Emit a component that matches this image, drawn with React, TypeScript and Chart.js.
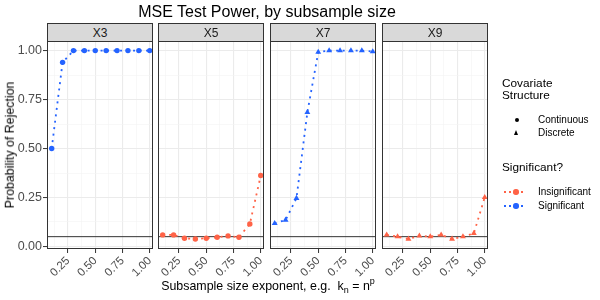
import React, { useEffect, useRef } from "react";
import { Chart, registerables } from "chart.js";

Chart.register(...registerables);

// ---------------- data ----------------
const panelNames = ["X3", "X5", "X7", "X9"];
const covariateStructure = ["Continuous", "Continuous", "Discrete", "Discrete"];
const significance = ["Significant", "Insignificant", "Significant", "Insignificant"];
const exponents = [0.1, 0.2, 0.3, 0.4, 0.5, 0.6, 0.7, 0.8, 0.9, 1.0];
const powerX3 = [0.5, 0.94, 1.0, 1.0, 1.0, 1.0, 1.0, 1.0, 1.0, 1.0];
const powerX5 = [0.059, 0.059, 0.042, 0.038, 0.042, 0.047, 0.054, 0.047, 0.115, 0.362];
const powerX7 = [0.118, 0.135, 0.246, 0.685, 0.992, 1.0, 1.0, 1.0, 1.0, 0.995];
const powerX9 = [0.059, 0.05, 0.038, 0.054, 0.05, 0.059, 0.038, 0.05, 0.067, 0.251];
const panelPower = [powerX3, powerX5, powerX7, powerX9];
const alphaLevel = 0.05;
const xMajorTicks = [0.25, 0.5, 0.75, 1.0];
const xMinorTicks = [0.125, 0.375, 0.625, 0.875];
const yMajorTicks = [0, 0.25, 0.5, 0.75, 1.0];
const yMinorTicks = [0.125, 0.375, 0.625, 0.875];

// ---------------- style ----------------
const FONT = '"Liberation Sans", Arial, Helvetica, sans-serif';
const COLORS: Record<string, string> = { Significant: "#2463FF", Insignificant: "#FF6347" };
const SHAPES: Record<string, string> = { Continuous: "circle", Discrete: "triangle" };
const RADIUS: Record<string, number> = { Continuous: 2.7, Discrete: 3.4 };
const W = 600;
const H = 300;
const PANEL_LEFTS = [47, 158, 270, 382];
const PANEL_W = 106;
const PANEL_TOP = 41;
const PANEL_BOTTOM = 249;
const STRIP_TOP = 23;
const X_MIN = 0.057;
const X_MAX = 1.03;
const Y_MIN = -0.013;
const Y_MAX = 1.049;

const isIn = (arr: number[], v: number) => arr.some((m) => Math.abs(m - v) < 1e-9);

const panelPlugin = {
  id: "panelDeco",
  beforeDatasetsDraw(chart: any) {
    const { ctx, chartArea } = chart;
    const y = chart.scales.y.getPixelForValue(alphaLevel);
    ctx.save();
    ctx.strokeStyle = "#333333";
    ctx.lineWidth = 1;
    ctx.beginPath();
    ctx.moveTo(chartArea.left, y);
    ctx.lineTo(chartArea.right, y);
    ctx.stroke();
    ctx.restore();
  },
  afterDraw(chart: any) {
    const { ctx, chartArea } = chart;
    ctx.save();
    ctx.strokeStyle = "#333333";
    ctx.lineWidth = 1;
    ctx.strokeRect(
      Math.round(chartArea.left) + 0.5,
      Math.round(chartArea.top) + 0.5,
      Math.round(chartArea.right - chartArea.left) - 1,
      Math.round(chartArea.bottom - chartArea.top) - 1
    );
    ctx.restore();
  },
};

function makeConfig(i: number): any {
  const color = COLORS[significance[i]];
  const struct = covariateStructure[i];
  const first = i === 0;
  const yW = first ? PANEL_LEFTS[0] : 0;
  return {
    type: "line",
    data: {
      datasets: [
        {
          label: panelNames[i],
          data: exponents.map((x, j) => ({ x, y: panelPower[i][j] })),
          borderColor: color,
          backgroundColor: color,
          borderWidth: 1.8,
          borderDash: [2, 4.5],
          pointStyle: SHAPES[struct],
          pointRadius: RADIUS[struct],
          pointBorderWidth: 0,
          pointBackgroundColor: color,
          tension: 0,
          clip: false,
        },
      ],
    },
    options: {
      responsive: false,
      animation: false,
      devicePixelRatio: 1,
      events: [],
      layout: {
        padding: {
          left: PANEL_LEFTS[i] - yW,
          right: W - PANEL_LEFTS[i] - PANEL_W,
          top: PANEL_TOP,
          bottom: 0,
        },
      },
      plugins: { legend: { display: false }, tooltip: { enabled: false }, title: { display: false } },
      scales: {
        x: {
          type: "linear",
          min: X_MIN,
          max: X_MAX,
          afterBuildTicks: (s: any) => {
            s.ticks = [...xMinorTicks, ...xMajorTicks].sort((a, b) => a - b).map((v) => ({ value: v }));
          },
          afterFit: (s: any) => {
            s.height = H - PANEL_BOTTOM;
            s.paddingLeft = 0;
            s.paddingRight = 0;
          },
          border: { display: false },
          grid: {
            color: (c: any) => (c.tick && isIn(xMajorTicks, c.tick.value) ? "#EBEBEB" : "#F4F4F4"),
            lineWidth: (c: any) => (c.tick && isIn(xMajorTicks, c.tick.value) ? 1.1 : 0.6),
            tickColor: (c: any) => (c.tick && isIn(xMajorTicks, c.tick.value) ? "#333333" : "rgba(0,0,0,0)"),
            tickLength: 4,
            tickWidth: 1,
          },
          ticks: {
            autoSkip: false,
            minRotation: 45,
            maxRotation: 45,
            padding: 1,
            color: "#4D4D4D",
            font: { family: FONT, size: 11.5 },
            callback: (v: number) => (isIn(xMajorTicks, v) ? v.toFixed(2) : ""),
          },
        },
        y: {
          type: "linear",
          min: Y_MIN,
          max: Y_MAX,
          afterBuildTicks: (s: any) => {
            s.ticks = [...yMinorTicks, ...yMajorTicks].sort((a, b) => a - b).map((v) => ({ value: v }));
          },
          afterFit: (s: any) => {
            s.width = yW;
            s.paddingTop = 0;
            s.paddingBottom = 0;
          },
          border: { display: false },
          grid: {
            color: (c: any) => (c.tick && isIn(yMajorTicks, c.tick.value) ? "#EBEBEB" : "#F4F4F4"),
            lineWidth: (c: any) => (c.tick && isIn(yMajorTicks, c.tick.value) ? 1.1 : 0.6),
            tickColor: (c: any) => (c.tick && isIn(yMajorTicks, c.tick.value) ? "#333333" : "rgba(0,0,0,0)"),
            drawTicks: first,
            tickLength: 4,
            tickWidth: 1,
          },
          ticks: {
            display: first,
            autoSkip: false,
            padding: 1,
            color: "#4D4D4D",
            font: { family: FONT, size: 12.5 },
            callback: (v: number) => (isIn(yMajorTicks, v) ? v.toFixed(2) : ""),
          },
        },
      },
    },
    plugins: [panelPlugin],
  };
}

const abs = (extra: React.CSSProperties): React.CSSProperties => ({
  position: "absolute",
  whiteSpace: "pre",
  lineHeight: 1,
  ...extra,
});

function LegendKeyLine({ color, y }: { color: string; y: number }) {
  return (
    <>
      {[505, 510, 522].map((x) => (
        <div key={x} style={abs({ left: x - 1, top: y - 1, width: 2, height: 2, background: color })} />
      ))}
      <div style={abs({ left: 516 - 2.7, top: y - 2.7, width: 5.4, height: 5.4, borderRadius: "50%", background: color })} />
    </>
  );
}

export default function App() {
  const refs = useRef<(HTMLCanvasElement | null)[]>([]);

  useEffect(() => {
    Chart.defaults.font.family = FONT;
    const charts = panelNames.map((_, i) => new Chart(refs.current[i] as HTMLCanvasElement, makeConfig(i)));
    return () => charts.forEach((c) => c.destroy());
  }, []);

  return (
    <div style={{ position: "fixed", left: 0, top: 0, width: W, height: H, background: "#ffffff", fontFamily: FONT, overflow: "hidden" }}>
      {panelNames.map((name, i) => (
        <canvas
          key={name}
          ref={(el) => {
            refs.current[i] = el;
          }}
          width={W}
          height={H}
          style={{ position: "absolute", left: 0, top: 0, width: W, height: H }}
        />
      ))}

      {/* strips */}
      {panelNames.map((name, i) => (
        <div
          key={"s" + name}
          style={abs({
            left: PANEL_LEFTS[i],
            top: STRIP_TOP,
            width: PANEL_W,
            height: PANEL_TOP - STRIP_TOP + 1,
            boxSizing: "border-box",
            background: "#D9D9D9",
            border: "1px solid #333333",
            color: "#1A1A1A",
            fontSize: 12,
            display: "flex",
            alignItems: "center",
            justifyContent: "center",
          })}
        >
          {name}
        </div>
      ))}

      {/* title */}
      <div style={abs({ left: 267, top: 12, transform: "translate(-50%,-50%)", fontSize: 16, color: "#000" })}>
        MSE Test Power, by subsample size
      </div>

      {/* axis titles */}
      <div style={abs({ left: 10, top: 145, transform: "translate(-50%,-50%) rotate(-90deg)", fontSize: 12.4, color: "#000" })}>
        Probability of Rejection
      </div>
      <div style={abs({ left: 268, top: 286, transform: "translate(-50%,-50%)", fontSize: 12.4, color: "#000" })}>
        {"Subsample size exponent, e.g.  k"}
        <span style={{ fontSize: 9, verticalAlign: "-3px" }}>n</span>
        {" = n"}
        <span style={{ fontSize: 9, verticalAlign: "6px" }}>p</span>
      </div>

      {/* legend */}
      <div style={abs({ left: 502, top: 83.5, transform: "translateY(-50%)", fontSize: 11.8, color: "#000" })}>Covariate</div>
      <div style={abs({ left: 502, top: 95.5, transform: "translateY(-50%)", fontSize: 11.8, color: "#000" })}>Structure</div>
      <div style={abs({ left: 517 - 2, top: 120 - 2, width: 4, height: 4, borderRadius: "50%", background: "#000" })} />
      <div style={abs({ left: 538, top: 120, transform: "translateY(-50%)", fontSize: 10, color: "#000" })}>{covariateStructure[0]}</div>
      <div
        style={abs({
          left: 517 - 2.9,
          top: 133 - 2.8,
          width: 0,
          height: 0,
          borderLeft: "2.9px solid transparent",
          borderRight: "2.9px solid transparent",
          borderBottom: "5px solid #000",
        })}
      />
      <div style={abs({ left: 538, top: 133.3, transform: "translateY(-50%)", fontSize: 10, color: "#000" })}>{covariateStructure[2]}</div>

      <div style={abs({ left: 502, top: 168, transform: "translateY(-50%)", fontSize: 11.8, color: "#000" })}>Significant?</div>
      <LegendKeyLine color={COLORS.Insignificant} y={192} />
      <div style={abs({ left: 538, top: 192, transform: "translateY(-50%)", fontSize: 10, color: "#000" })}>Insignificant</div>
      <LegendKeyLine color={COLORS.Significant} y={206} />
      <div style={abs({ left: 538, top: 206.3, transform: "translateY(-50%)", fontSize: 10, color: "#000" })}>Significant</div>
    </div>
  );
}
